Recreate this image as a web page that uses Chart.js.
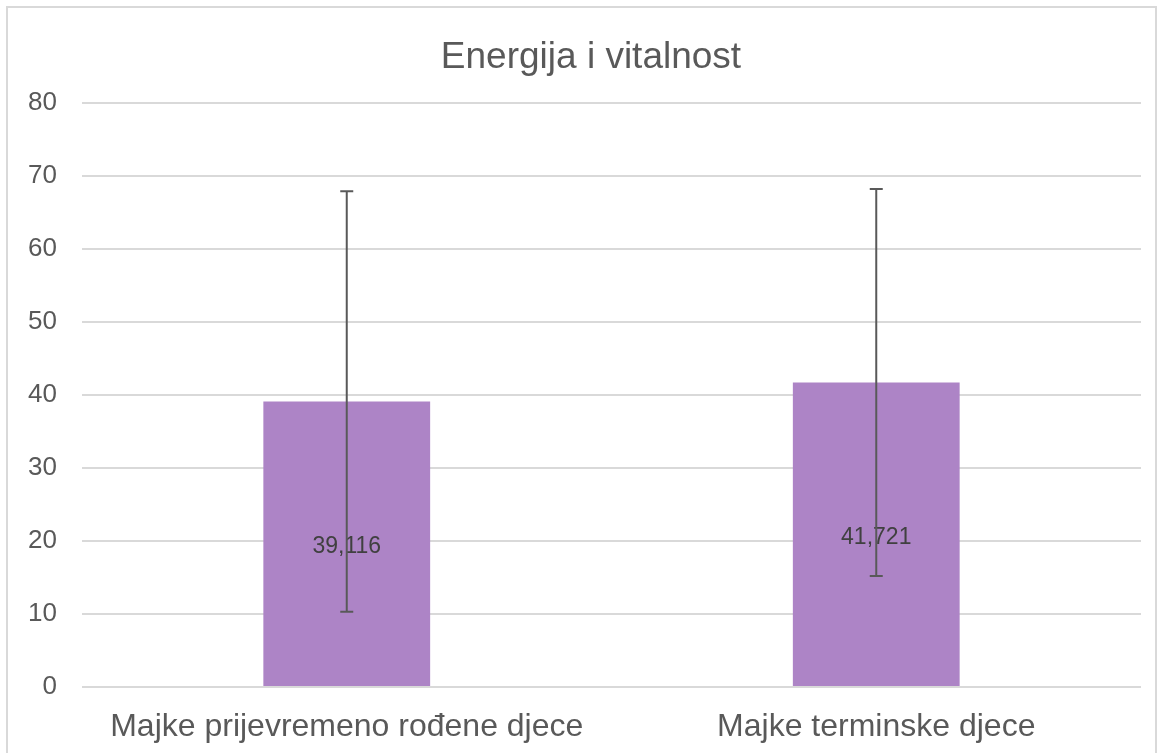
<!DOCTYPE html>
<html>
<head>
<meta charset="utf-8">
<script src="https://cdn.jsdelivr.net/npm/chart.js@4/dist/chart.umd.min.js"></script>
<style>
    html, body { margin: 0; padding: 0; background: #fff; }
    #wrap { position: relative; width: 1163px; height: 753px; }
</style>
</head>
<body>
<div id="wrap"><canvas id="energyChart" width="1163" height="753"></canvas></div>
<script>
const chartTitle = 'Energija i vitalnost';
const categories = ['Majke prijevremeno rođene djece', 'Majke terminske djece'];
const means = [39.116, 41.721];
const errors = [28.8, 26.5];
const yTicks = [0, 10, 20, 30, 40, 50, 60, 70, 80];

const FONT = '"Liberation Sans", Arial, sans-serif';
const fmt = (v) => v.toFixed(3).replace('.', ',');

// okvir i naslov (naslov je pomaknut kao u Excelu, pa ga crtamo sami)
const frame = {
    id: 'frame',
    beforeDraw(chart) {
        const c = chart.ctx;
        c.save();
        c.strokeStyle = '#d9d9d9';
        c.lineWidth = 2;
        c.strokeRect(7, 7, 1149, 760);
        c.fillStyle = '#595959';
        c.font = '37px ' + FONT;
        c.textAlign = 'center';
        c.textBaseline = 'alphabetic';
        c.fillText(chartTitle, 591, 68);
        c.restore();
    }
};

// error bars + data labels
const errBars = {
    id: 'errBars',
    afterDatasetsDraw(chart) {
        const c = chart.ctx;
        const y = chart.scales.y;
        const meta = chart.getDatasetMeta(0);
        c.save();
        meta.data.forEach((bar, i) => {
            const top = y.getPixelForValue(means[i] + errors[i]);
            const bot = y.getPixelForValue(means[i] - errors[i]);
            const mid = (bar.y + bar.base) / 2 + 3;
            c.fillStyle = '#404040';
            c.font = '23px ' + FONT;
            c.textAlign = 'center';
            c.textBaseline = 'middle';
            c.fillText(fmt(means[i]), bar.x, mid);
            c.strokeStyle = '#595959';
            c.lineWidth = 2;
            c.beginPath();
            c.moveTo(bar.x, top); c.lineTo(bar.x, bot);
            c.moveTo(bar.x - 6.5, top); c.lineTo(bar.x + 6.5, top);
            c.moveTo(bar.x - 6.5, bot); c.lineTo(bar.x + 6.5, bot);
            c.stroke();
        });
        c.restore();
    }
};

new Chart(document.getElementById('energyChart'), {
    type: 'bar',
    data: {
        labels: categories,
        datasets: [{
            data: means,
            backgroundColor: '#AD84C6',
            borderWidth: 0,
            barPercentage: 1,
            categoryPercentage: 0.315
        }]
    },
    options: {
        responsive: false,
        animation: false,
        devicePixelRatio: 1,
        layout: { padding: { left: 0, right: 22, top: 103, bottom: 0 } },
        plugins: {
            legend: { display: false },
            tooltip: { enabled: false },
            title: { display: false }
        },
        scales: {
            x: {
                afterFit: (s) => { s.height = 66; },
                grid: { display: false },
                border: { display: false },
                ticks: {
                    color: '#595959', padding: 13,
                    font: { family: FONT, size: 32 }
                }
            },
            y: {
                min: 0, max: 80,
                afterFit: (s) => { s.width = 82; },
                afterBuildTicks: (s) => { s.ticks = yTicks.map(v => ({ value: v })); },
                grid: { color: '#d9d9d9', lineWidth: 2, drawTicks: false },
                border: { display: false },
                ticks: {
                    color: '#595959', padding: 25,
                    font: { family: FONT, size: 26 }
                }
            }
        }
    },
    plugins: [frame, errBars]
});
</script>
</body>
</html>
